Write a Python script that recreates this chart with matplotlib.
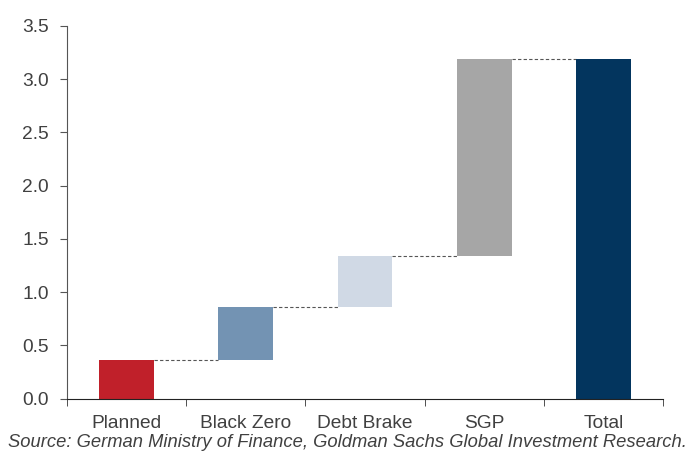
import matplotlib
matplotlib.use("Agg")
import matplotlib.pyplot as plt
import numpy as np

# 데이터
categories = ["Planned", "Black Zero", "Debt Brake", "SGP", "Total"]
increments = [0.36, 0.50, 0.48, 1.85]
total_value = 3.19
bar_colors = ["#C0202A", "#7393B3", "#D0D9E5", "#A6A6A6", "#03355E"]
y_ticks = [0.0, 0.5, 1.0, 1.5, 2.0, 2.5, 3.0, 3.5]
source_text = "Source: German Ministry of Finance, Goldman Sachs Global Investment Research."

plt.rcParams['font.family'] = ['Liberation Sans', 'DejaVu Sans']
text_color = "#404040"

fig = plt.figure(figsize=(6.87, 4.51), dpi=100)
ax = fig.add_axes([0.0975, 0.1164, 0.8675, 0.826])

# 폭포 차트 바닥/높이 계산
cum = np.cumsum(increments)
bottoms = list(np.concatenate([[0], cum[:-1]])) + [0]
heights = increments + [total_value]
x = np.arange(len(categories))
bar_w = 0.46

ax.bar(x, heights, bottom=bottoms, width=bar_w, color=bar_colors, zorder=2)

# 점선 연결선
levels = list(cum)
for i in range(len(categories) - 1):
    ax.plot([x[i] + bar_w / 2, x[i + 1] - bar_w / 2], [levels[i], levels[i]],
            linestyle=(0, (3, 2)), color="#555555", linewidth=0.8, zorder=1)

ax.set_xlim(-0.5, len(categories) - 0.5)
ax.set_ylim(0, 3.5)
ax.set_yticks(y_ticks)
ax.set_yticklabels([f"{v:.1f}" for v in y_ticks])
ax.set_xticks(x)
ax.set_xticklabels(categories)
ax.set_xticks(np.arange(-0.5, len(categories)), minor=True)

ax.tick_params(axis="x", which="major", length=0, pad=12, labelsize=13.8, labelcolor=text_color)
ax.tick_params(axis="x", which="minor", length=5, direction="out", color="#333333")
ax.tick_params(axis="y", length=5, direction="out", color="#555555", labelsize=13.8,
               labelcolor=text_color, pad=8)

ax.spines["top"].set_visible(False)
ax.spines["right"].set_visible(False)
ax.spines["left"].set_color("#555555")
ax.spines["bottom"].set_color("#222222")

fig.text(0.012, 0.0, source_text, fontsize=13.2, style="italic", color=text_color,
         ha="left", va="bottom")

plt.savefig("out.png", dpi=100)
